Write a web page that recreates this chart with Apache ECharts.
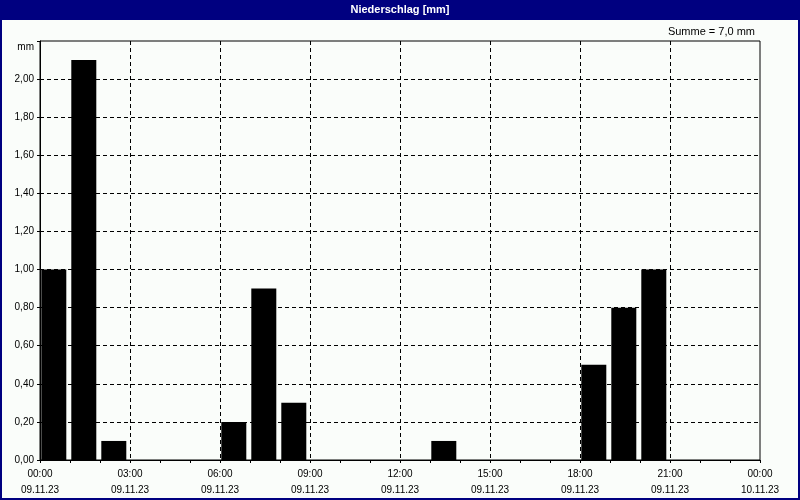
<!DOCTYPE html>
<html><head><meta charset="utf-8">
<script src="https://cdn.jsdelivr.net/npm/echarts@6/dist/echarts.min.js"></script>
<style>html,body{margin:0;padding:0;background:#000080}#c{width:800px;height:500px}</style>
</head><body><div id="c"></div>
<script>
// hourly precipitation, 09.11.23 00:00 .. 24:00
const hours = [0,1,2,3,4,5,6,7,8,9,10,11,12,13,14,15,16,17,18,19,20,21,22,23];
const precip = [1.0,2.1,0.1,0,0,0,0.2,0.9,0.3,0,0,0,0,0.1,0,0,0,0,0.5,0.8,1.0,0,0,0];
const timeLabels = ['00:00','03:00','06:00','09:00','12:00','15:00','18:00','21:00','00:00'];
const dateLabels = ['09.11.23','09.11.23','09.11.23','09.11.23','09.11.23','09.11.23','09.11.23','09.11.23','10.11.23'];
const titleText = 'Niederschlag [mm]';
const sumText = 'Summe = 7,0 mm';

const font = '"Liberation Sans", Arial, sans-serif';
const chart = echarts.init(document.getElementById('c'));
chart.setOption({
  backgroundColor: '#FAFDFA',
  animation: false,
  title: {text: titleText, left: 'center', top: 4, padding: 0,
    textStyle: {color: '#fff', fontWeight: 'bold', fontSize: 11, fontFamily: font}},
  graphic: [
    {type: 'rect', shape: {x: 1, y: 1, width: 798, height: 498}, style: {fill: 'none', stroke: '#000080', lineWidth: 2}, z: -1},
    {type: 'rect', shape: {x: 0, y: 0, width: 800, height: 20}, style: {fill: '#000080'}, z: -1},
    {type: 'text', right: 45, top: 26, style: {text: sumText, fill: '#000', font: '11px ' + font}}
  ],
  grid: {left: 40, right: 40, top: 41, bottom: 40, show: true, borderColor: '#000', borderWidth: 1},
  xAxis: {
    type: 'value', min: 0, max: 24, interval: 3,
    axisLine: {lineStyle: {color: '#000'}},
    axisTick: {show: true, length: 3, lineStyle: {color: '#000'}},
    minorTick: {show: true, splitNumber: 3, length: 3, lineStyle: {color: '#000'}},
    splitLine: {show: true, showMinLine: false, showMaxLine: false, lineStyle: {color: '#000', type: [4, 3]}},
    axisLabel: {color: '#000', fontSize: 10, fontFamily: font, margin: 6, lineHeight: 16,
      formatter: v => { const i = Math.round(v / 3); return timeLabels[i] + '\n' + dateLabels[i]; }}
  },
  yAxis: {
    type: 'value', min: 0, max: 2.2, interval: 0.2,
    axisLine: {show: true, lineStyle: {color: '#000'}},
    axisTick: {show: true, length: 3, lineStyle: {color: '#000'}},
    splitLine: {show: true, showMinLine: false, showMaxLine: false, lineStyle: {color: '#000', type: [4, 3]}},
    axisLabel: {color: '#000', fontSize: 10, fontFamily: font, margin: 6,
      rich: {m: {fontSize: 10, fontFamily: font, padding: [12, 0, 0, 0]}},
      formatter: v => v > 2.15 ? '{m|mm}' : v.toFixed(2).replace('.', ',')}
  },
  series: [{
    type: 'bar', barWidth: 25,
    itemStyle: {color: '#000000'},
    data: hours.map((h, i) => [h + 0.46, precip[i]])
  }]
});
</script></body></html>
